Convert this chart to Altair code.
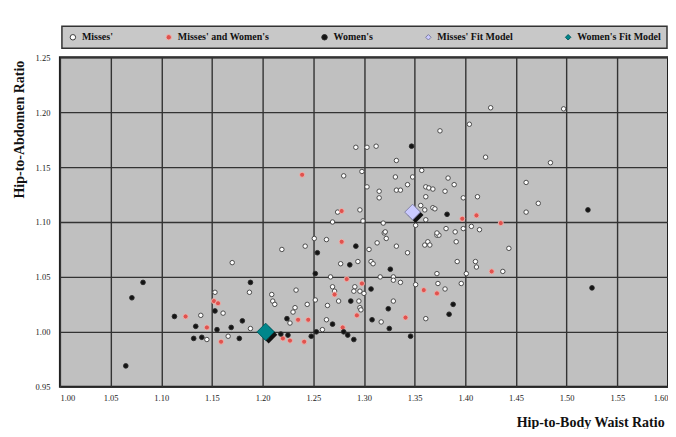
import altair as alt
import pandas as pd

series_names = ["Misses'", "Misses' and Women's", "Women's", "Misses' Fit Model", "Women's Fit Model"]

misses_x = [1.170, 1.139, 1.153, 1.161, 1.187, 1.188, 1.166, 1.145, 1.209, 1.210,
            1.219, 1.242, 1.251, 1.263, 1.277, 1.212, 1.233, 1.232, 1.230, 1.244,
            1.252, 1.264, 1.269, 1.271, 1.267, 1.275, 1.291, 1.290, 1.263, 1.227, 1.259,
            1.320, 1.322, 1.313, 1.305, 1.307, 1.309, 1.294, 1.343, 1.360, 1.363,
            1.365, 1.372, 1.374, 1.391, 1.390, 1.414, 1.443, 1.392, 1.410, 1.411,
            1.437, 1.372, 1.401, 1.396, 1.373, 1.380, 1.351, 1.329, 1.329, 1.336,
            1.316, 1.296, 1.300, 1.295, 1.296, 1.297, 1.329, 1.317, 1.361,
            1.292, 1.303, 1.312, 1.332, 1.280, 1.298, 1.331, 1.348, 1.357, 1.303,
            1.315, 1.315, 1.332, 1.336, 1.343, 1.361, 1.361, 1.274, 1.296, 1.269,
            1.299, 1.319, 1.321, 1.356, 1.360, 1.351,
            1.425, 1.497, 1.375, 1.404, 1.420, 1.484, 1.383, 1.389, 1.364, 1.368,
            1.380, 1.398, 1.412, 1.460, 1.472, 1.460, 1.406, 1.372, 1.368,
            1.370, 1.361, 1.381, 1.332, 1.398]
misses_y = [1.063, 1.015, 1.036, 1.017, 1.036, 1.003, 0.996, 0.993, 1.034, 1.028,
            1.075, 1.078, 1.085, 1.084, 1.062, 1.025, 1.038, 1.022, 1.018, 1.025,
            1.029, 1.024, 1.041, 1.037, 1.050, 1.028, 1.041, 1.037, 1.011, 1.008, 1.002,
            1.090, 1.085, 1.081, 1.075, 1.064, 1.062, 1.064, 1.072, 1.079, 1.082,
            1.079, 1.088, 1.088, 1.082, 1.091, 1.093, 1.076, 1.064, 1.064, 1.059,
            1.055, 1.053, 1.053, 1.044, 1.044, 1.039, 1.043, 1.050, 1.047, 1.045,
            1.050, 1.037, 1.035, 1.028, 1.022, 1.020, 1.028, 1.009, 1.012,
            1.168, 1.168, 1.169, 1.156, 1.142, 1.146, 1.141, 1.141, 1.147, 1.132,
            1.128, 1.122, 1.129, 1.129, 1.134, 1.132, 1.123, 1.109, 1.111, 1.100,
            1.101, 1.099, 1.091, 1.115, 1.111, 1.097,
            1.204, 1.203, 1.183, 1.189, 1.159, 1.154, 1.140, 1.134, 1.131, 1.130,
            1.128, 1.122, 1.123, 1.136, 1.117, 1.109, 1.096, 1.090, 1.113,
            1.112, 1.102, 1.094, 1.078, 1.094]

mw_x = [1.124, 1.152, 1.156, 1.145, 1.159, 1.278, 1.283, 1.271, 1.293, 1.235,
        1.245, 1.279, 1.220, 1.227, 1.241, 1.298, 1.359, 1.372, 1.341, 1.426,
        1.239, 1.278, 1.397, 1.411, 1.435]
mw_y = [1.014, 1.028, 1.026, 1.004, 0.991, 1.082, 1.048, 1.034, 1.015, 1.011,
        1.011, 1.004, 0.994, 0.992, 0.991, 1.044, 1.038, 1.035, 1.013, 1.055,
        1.143, 1.110, 1.103, 1.106, 1.099]

women_x = [1.082, 1.071, 1.065, 1.113, 1.134, 1.153, 1.155, 1.132, 1.140, 1.169,
           1.180, 1.177, 1.188, 1.204, 1.292, 1.254, 1.286, 1.252, 1.287, 1.224,
           1.218, 1.225, 1.248, 1.253, 1.269, 1.280, 1.284, 1.290, 1.326, 1.307,
           1.324, 1.308, 1.325, 1.346, 1.388, 1.384, 1.347, 1.382, 1.521, 1.525]
women_y = [1.045, 1.031, 0.969, 1.014, 1.005, 1.019, 1.002, 0.994, 0.995, 1.004,
           1.010, 0.994, 1.045, 0.995, 1.078, 1.072, 1.061, 1.053, 1.028, 1.012,
           0.998, 0.997, 0.996, 1.000, 1.007, 1.000, 0.997, 0.993, 1.057, 1.039,
           1.021, 1.011, 1.003, 0.996, 1.025, 1.016, 1.169, 1.107, 1.111, 1.040]

fit_misses_x = [1.348]
fit_misses_y = [1.109]
fit_women_x = [1.203]
fit_women_y = [1.000]

x_ticks = [1.00, 1.05, 1.10, 1.15, 1.20, 1.25, 1.30, 1.35, 1.40, 1.45, 1.50, 1.55, 1.60]
y_ticks = [0.95, 1.00, 1.05, 1.10, 1.15, 1.20, 1.25]

fills = ["#FFFFFF", "#E0524E", "#141414", "#CACAFF", "#00868B"]
strokes = ["#3C3C3C", "#EDB6B0", "#2A2A2A", "#7C7CA0", "#005C60"]
shapes = ["circle", "circle", "circle", "diamond", "diamond"]
sizes = [20, 26, 22, 250, 300]

frames = []
for name, xs, ys in [
    (series_names[0], misses_x, misses_y),
    (series_names[1], mw_x, mw_y),
    (series_names[2], women_x, women_y),
    (series_names[3], fit_misses_x, fit_misses_y),
    (series_names[4], fit_women_x, fit_women_y),
]:
    frames.append(pd.DataFrame({"x": xs, "y": ys, "series": name}))
df = pd.concat(frames, ignore_index=True)

serif = "Liberation Serif"

x_enc = alt.X("x:Q", scale=alt.Scale(domain=[1.0, 1.6], nice=False, zero=False),
              axis=alt.Axis(values=x_ticks, format=".2f", title="Hip-to-Body Waist Ratio",
                            titleX=531, titleY=36, titleAlign="center", titleBaseline="middle"))
y_enc = alt.Y("y:Q", scale=alt.Scale(domain=[0.95, 1.25], nice=False, zero=False),
              axis=alt.Axis(values=y_ticks, format=".2f", title="Hip-to-Abdomen Ratio",
                            titleX=-40, titleY=72, titleAlign="center", titleBaseline="middle"))

legend = alt.Legend(
    title=None, orient="none", legendX=2, legendY=-31, direction="horizontal",
    fillColor="#C8C8C8", strokeColor="#333333", padding=6,
    columnPadding=50, symbolSize=30, symbolStrokeWidth=1,
    labelFont=serif, labelFontSize=10, labelFontWeight="bold", labelColor="#111111",
    labelOffset=4,
)
fill_enc = alt.Fill("series:N", scale=alt.Scale(domain=series_names, range=fills), legend=legend)
stroke_enc = alt.Stroke("series:N", scale=alt.Scale(domain=series_names, range=strokes), legend=legend)
shape_enc = alt.Shape("series:N", scale=alt.Scale(domain=series_names, range=shapes), legend=legend)

layers = []
# drop shadows behind the two fit-model diamonds
for i in (3, 4):
    layers.append(
        alt.Chart(df).transform_filter(alt.datum.series == series_names[i])
        .mark_point(shape="diamond", filled=True, color="#111111", opacity=1,
                    size=sizes[i], xOffset=3, yOffset=3)
        .encode(x=x_enc, y=y_enc)
    )
for i, name in enumerate(series_names):
    layers.append(
        alt.Chart(df).transform_filter(alt.datum.series == name)
        .mark_point(opacity=1, fillOpacity=1, strokeWidth=0.9, size=sizes[i])
        .encode(x=x_enc, y=y_enc, fill=fill_enc, stroke=stroke_enc, shape=shape_enc)
    )

chart = alt.layer(*layers).properties(
    width=609, height=330,
    autosize=alt.AutoSizeParams(type="none"),
    padding={"left": 52, "top": 49, "right": 0, "bottom": 42},
    background="#FFFFFF",
).configure_view(
    fill="#C0C0C0", stroke="#1A1A1A", strokeWidth=2
).configure_axis(
    domain=False, ticks=False, grid=True, gridColor="#333333", gridWidth=1.4,
    labelFont=serif, labelFontSize=8.5, labelColor="#1A1A1A",
    titleFont=serif, titleFontSize=14, titleFontWeight="bold", titleColor="#111111",
).configure_axisX(labelPadding=7).configure_axisY(labelPadding=10).configure_legend(
    strokeWidth=1.5
)

chart.save("out.html", embed_options={"renderer": "svg", "actions": False})
